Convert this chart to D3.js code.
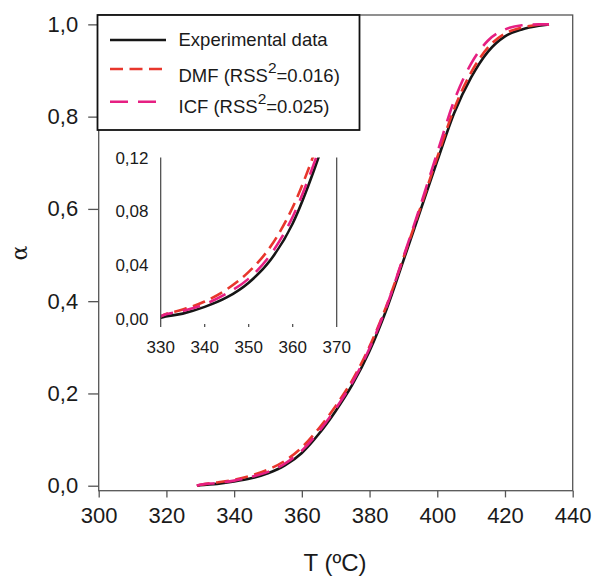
<!DOCTYPE html>
<html>
<head>
<meta charset="utf-8">
<script src="https://cdn.jsdelivr.net/npm/d3@7"></script>
<style>
  body { margin: 0; background: #fff; }
  text { font-family: "Liberation Sans", Arial, sans-serif; fill: #1a1a1a; }
</style>
</head>
<body>
<div id="wrapper"></div>
<script>
// Data
const temps = [329, 330, 335, 340, 345, 350, 355, 360, 365, 370, 375, 380, 385, 390, 395, 400, 405, 410, 415, 420, 425, 430, 433]
const experimental = [0, 0.001, 0.004, 0.009, 0.016, 0.027, 0.044, 0.071, 0.112, 0.162, 0.220, 0.292, 0.382, 0.488, 0.596, 0.704, 0.808, 0.885, 0.941, 0.974, 0.989, 0.997, 1.0]
const dmf = [0, 0.002, 0.007, 0.013, 0.022, 0.035, 0.054, 0.083, 0.124, 0.173, 0.230, 0.302, 0.390, 0.494, 0.602, 0.712, 0.817, 0.896, 0.950, 0.980, 0.993, 0.999, 1.0]
const icf = [0, 0.002, 0.006, 0.011, 0.019, 0.030, 0.048, 0.076, 0.117, 0.167, 0.225, 0.298, 0.388, 0.496, 0.607, 0.722, 0.835, 0.915, 0.965, 0.989, 0.998, 1.0, 1.0]

const xTicks = [300, 320, 340, 360, 380, 400, 420, 440]
const yTicks = [0, 0.2, 0.4, 0.6, 0.8, 1.0]
const insetXTicks = [330, 340, 350, 360, 370]
const insetYTicks = [0, 0.04, 0.08, 0.12]

const seriesNames = ["Experimental data", "DMF", "ICF"]
const rssValues = [null, "0.016", "0.025"]

function drawChart() {
  const dimensions = {
    width: 594,
    height: 578,
    margin: { top: 15, right: 21.3, bottom: 87.3, left: 98.7 },
  }
  dimensions.boundedWidth = dimensions.width - dimensions.margin.left - dimensions.margin.right
  dimensions.boundedHeight = dimensions.height - dimensions.margin.top - dimensions.margin.bottom

  const series = [
    { name: seriesNames[0], values: experimental, color: "#161616", dash: null },
    { name: seriesNames[1], values: dmf, color: "#e8362c", dash: "13,6.5" },
    { name: seriesNames[2], values: icf, color: "#e61f82", dash: "18,10" },
  ]

  const wrapper = d3.select("#wrapper")
    .append("svg")
    .attr("width", dimensions.width)
    .attr("height", dimensions.height)

  const bounds = wrapper.append("g")
    .attr("transform", `translate(${dimensions.margin.left}, ${dimensions.margin.top})`)

  // scales
  const xScale = d3.scaleLinear()
    .domain([300, 440])
    .range([0, dimensions.boundedWidth])

  const yScale = d3.scaleLinear()
    .domain([-0.0108, 1.0203])
    .range([dimensions.boundedHeight, 0])

  // frame
  bounds.append("rect")
    .attr("width", dimensions.boundedWidth)
    .attr("height", dimensions.boundedHeight)
    .attr("fill", "none")
    .attr("stroke", "#555")
    .attr("stroke-width", 1.3)

  // curves
  const lineGenerator = d3.line()
    .x((d, i) => xScale(temps[i]))
    .y(d => yScale(d))
    .curve(d3.curveMonotoneX)

  bounds.selectAll(".curve")
    .data(series)
    .enter().append("path")
      .attr("class", "curve")
      .attr("d", d => lineGenerator(d.values))
      .attr("fill", "none")
      .attr("stroke", d => d.color)
      .attr("stroke-width", 2.6)
      .attr("stroke-dasharray", d => d.dash)

  // axes
  const xAxisGenerator = d3.axisBottom(xScale)
    .tickValues(xTicks)
    .tickSize(6.7)
    .tickPadding(10)
    .tickFormat(d3.format("d"))

  const xAxis = bounds.append("g")
    .attr("transform", `translate(0, ${dimensions.boundedHeight})`)
    .call(xAxisGenerator)
  xAxis.select(".domain").remove()
  xAxis.selectAll("line").attr("stroke", "#555").attr("stroke-width", 1.3)
  xAxis.selectAll("text")
    .attr("font-size", 22)
    .attr("font-family", "Liberation Sans, Arial, sans-serif")
    .attr("fill", "#1a1a1a")

  const yAxisGenerator = d3.axisLeft(yScale)
    .tickValues(yTicks)
    .tickSize(10.5)
    .tickPadding(10)
    .tickFormat(d => d3.format(".1f")(d).replace(".", ","))

  const yAxis = bounds.append("g")
    .call(yAxisGenerator)
  yAxis.select(".domain").remove()
  yAxis.selectAll("line").attr("stroke", "#555").attr("stroke-width", 1.3)
  yAxis.selectAll("text")
    .attr("font-size", 22)
    .attr("font-family", "Liberation Sans, Arial, sans-serif")
    .attr("fill", "#1a1a1a")

  // axis labels
  wrapper.append("text")
    .attr("x", 335)
    .attr("y", 571)
    .attr("text-anchor", "middle")
    .style("font-size", "24px")
    .text("T (ºC)")

  wrapper.append("text")
    .attr("transform", "translate(27, 253) rotate(-90)")
    .attr("text-anchor", "middle")
    .style("font-family", "'DejaVu Serif', 'Liberation Serif', serif")
    .style("font-size", "22px")
    .text("α")

  // legend
  const legend = wrapper.append("g")
  legend.append("rect")
    .attr("x", 97.5)
    .attr("y", 15)
    .attr("width", 262)
    .attr("height", 115)
    .attr("fill", "#fff")
    .attr("stroke", "#111")
    .attr("stroke-width", 1.8)

  const rowLineY = [40, 69, 101.7]
  const rowTextY = [45.8, 81.5, 113.3]

  series.forEach((s, i) => {
    legend.append("line")
      .attr("x1", 110)
      .attr("x2", 166)
      .attr("y1", rowLineY[i])
      .attr("y2", rowLineY[i])
      .attr("stroke", s.color)
      .attr("stroke-width", 2.6)
      .attr("stroke-dasharray", s.dash)

    const label = legend.append("text")
      .attr("x", 178.5)
      .attr("y", rowTextY[i])
      .style("font-size", "18.5px")

    if (rssValues[i] == null) {
      label.text(s.name)
    } else {
      label.append("tspan").text(`${s.name} (RSS`)
      label.append("tspan")
        .attr("dy", -9)
        .style("font-size", "15.5px")
        .text("2")
      label.append("tspan")
        .attr("dy", 9)
        .text(`=${rssValues[i]})`)
    }
  })

  // inset
  const inset = {
    left: 160.7,
    right: 336.7,
    top: 157.5,
    bottom: 327,
  }

  const insetX = d3.scaleLinear()
    .domain([330, 370])
    .range([inset.left, inset.right])

  const insetY = d3.scaleLinear()
    .domain([0, 0.12])
    .range([319, 157.5])

  wrapper.append("clipPath")
    .attr("id", "inset-clip")
    .append("rect")
      .attr("x", inset.left)
      .attr("y", inset.top)
      .attr("width", inset.right - inset.left)
      .attr("height", inset.bottom - inset.top)

  const insetLine = d3.line()
    .x((d, i) => insetX(temps[i]))
    .y(d => insetY(d))
    .curve(d3.curveMonotoneX)
    .defined((d, i) => temps[i] <= 375)

  wrapper.append("g")
    .attr("clip-path", "url(#inset-clip)")
    .selectAll("path")
    .data(series)
    .enter().append("path")
      .attr("d", d => insetLine(d.values))
      .attr("fill", "none")
      .attr("stroke", d => d.color)
      .attr("stroke-width", 2.6)
      .attr("stroke-dasharray", d => d.dash)

  // inset side lines
  wrapper.selectAll(".inset-side")
    .data([330, 370])
    .enter().append("line")
      .attr("class", "inset-side")
      .attr("x1", d => insetX(d))
      .attr("x2", d => insetX(d))
      .attr("y1", inset.top)
      .attr("y2", inset.bottom)
      .attr("stroke", "#444")
      .attr("stroke-width", 1.2)

  // inset ticks (inside, bottom)
  wrapper.selectAll(".inset-tick")
    .data(insetXTicks.slice(1, -1))
    .enter().append("line")
      .attr("class", "inset-tick")
      .attr("x1", d => insetX(d))
      .attr("x2", d => insetX(d))
      .attr("y1", inset.bottom - 3)
      .attr("y2", inset.bottom)
      .attr("stroke", "#444")
      .attr("stroke-width", 1.2)

  wrapper.selectAll(".inset-xlabel")
    .data(insetXTicks)
    .enter().append("text")
      .attr("class", "inset-xlabel")
      .attr("x", d => insetX(d))
      .attr("y", 352.5)
      .attr("text-anchor", "middle")
      .style("font-size", "17px")
      .text(d => d)

  wrapper.selectAll(".inset-ylabel")
    .data(insetYTicks)
    .enter().append("text")
      .attr("class", "inset-ylabel")
      .attr("x", 148.5)
      .attr("y", d => insetY(d))
      .attr("dy", "0.36em")
      .attr("text-anchor", "end")
      .style("font-size", "17px")
      .text(d => d3.format(".2f")(d).replace(".", ","))
}

drawChart()
</script>
</body>
</html>
